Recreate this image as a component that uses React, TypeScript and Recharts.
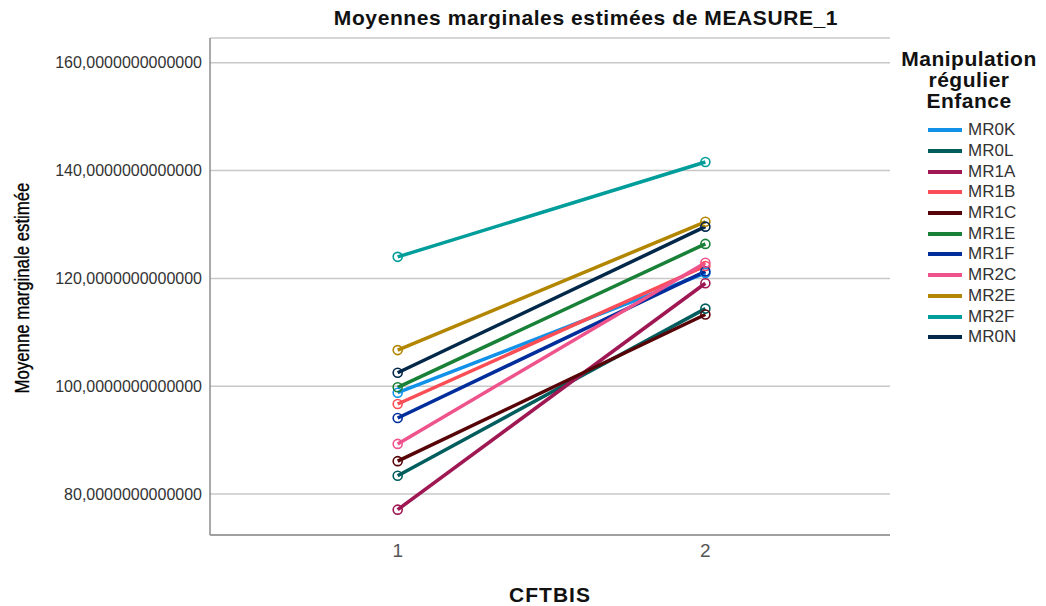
import React from "react";
import { LineChart, Line, XAxis, YAxis, CartesianGrid, Legend, Label } from "recharts";

const cftbis = [1, 2];
const groups = ["MR0K", "MR0L", "MR1A", "MR1B", "MR1C", "MR1E", "MR1F", "MR2C", "MR2E", "MR2F", "MR0N"];
const colors = [
  "#1192e8",
  "#005d5d",
  "#9f1853",
  "#fa4d56",
  "#570408",
  "#198038",
  "#002d9c",
  "#ee538b",
  "#b28600",
  "#009d9a",
  "#012749",
];
// estimated marginal means at CFTBIS = 1 and CFTBIS = 2, same order as groups
const meansAt1 = [98.8, 83.4, 77.1, 96.7, 86.1, 99.8, 94.1, 89.3, 106.7, 124.0, 102.5];
const meansAt2 = [121.0, 114.4, 119.1, 122.3, 113.3, 126.4, 121.3, 122.9, 130.5, 141.6, 129.6];
const yTicks = [80, 100, 120, 140, 160];

const data = cftbis.map((x, i) => {
  const row: Record<string, number> = { x };
  groups.forEach((g, j) => {
    row[g] = (i === 0 ? meansAt1 : meansAt2)[j];
  });
  return row;
});

const font = "'Liberation Sans', Arial, sans-serif";

const LegendBox = () => (
  <div style={{ fontFamily: font, width: 150 }}>
    <div
      style={{
        fontWeight: "bold",
        fontSize: 21,
        lineHeight: "21px",
        textAlign: "center",
        color: "#111",
        letterSpacing: 0.5,
      }}
    >
      <div>Manipulation</div>
      <div>régulier</div>
      <div>Enfance</div>
    </div>
    <div style={{ marginTop: 9 }}>
      {groups.map((g, i) => (
        <div key={g} style={{ display: "flex", alignItems: "center", height: 20.7 }}>
          <div style={{ width: 34, height: 4, background: colors[i], marginLeft: 34, marginRight: 6 }} />
          <span style={{ fontSize: 17, color: "#333" }}>{g}</span>
        </div>
      ))}
    </div>
  </div>
);

export default function App() {
  return (
    <div style={{ position: "absolute", left: 0, top: 0, width: 1046, height: 606, background: "#fff" }}>
      <div
        style={{
          position: "absolute",
          left: 0,
          width: 1172,
          top: 6,
          textAlign: "center",
          fontFamily: font,
          fontWeight: "bold",
          fontSize: 21,
          letterSpacing: 0.6,
          color: "#111",
          zIndex: 2,
        }}
      >
        Moyennes marginales estimées de MEASURE_1
      </div>
      <LineChart width={1046} height={606} data={data} margin={{ top: 38, right: 156, bottom: 0, left: 0 }}>
        <CartesianGrid vertical={false} stroke="#c8c8c8" strokeWidth={1.5} />
        <XAxis
          dataKey="x"
          type="number"
          domain={[0.39, 2.6]}
          ticks={cftbis}
          allowDataOverflow
          height={71}
          tickLine={false}
          tickMargin={3}
          axisLine={{ stroke: "#8c8c8c", strokeWidth: 1.5 }}
          tick={{ fontSize: 19, fill: "#555", fontFamily: font }}
        >
          <Label
            value="CFTBIS"
            position="insideBottom"
            offset={4}
            style={{ fontSize: 21, fontWeight: "bold", fill: "#111", fontFamily: font, letterSpacing: 1 }}
          />
        </XAxis>
        <YAxis
          type="number"
          domain={[72.4, 164.6]}
          ticks={yTicks}
          allowDataOverflow
          width={210}
          tickLine={false}
          axisLine={{ stroke: "#8c8c8c", strokeWidth: 1.5 }}
          tick={{ fontSize: 16, fill: "#333", fontFamily: font }}
          tickFormatter={(v: number) => `${v},0000000000000`}
        >
          <Label
            content={() => (
              <text
                transform="translate(22,288) rotate(-90) scale(0.8,1)"
                textAnchor="middle"
                dominantBaseline="central"
                fontSize={21}
                fontFamily={font}
                fill="#000"
                stroke="#000"
                strokeWidth={0.35}
              >
                Moyenne marginale estimée
              </text>
            )}
          />
        </YAxis>
        <Legend
          layout="vertical"
          align="center"
          verticalAlign="middle"
          content={() => <LegendBox />}
          wrapperStyle={{ position: "absolute", left: 894, top: 48, width: 150, height: 310 }}
        />
        {groups.map((g, i) => (
          <Line
            key={g}
            dataKey={g}
            stroke={colors[i]}
            strokeWidth={3.5}
            dot={{ r: 4.5, strokeWidth: 1.6, fill: "none", stroke: colors[i] }}
            activeDot={false}
            isAnimationActive={false}
          />
        ))}
      </LineChart>
    </div>
  );
}
